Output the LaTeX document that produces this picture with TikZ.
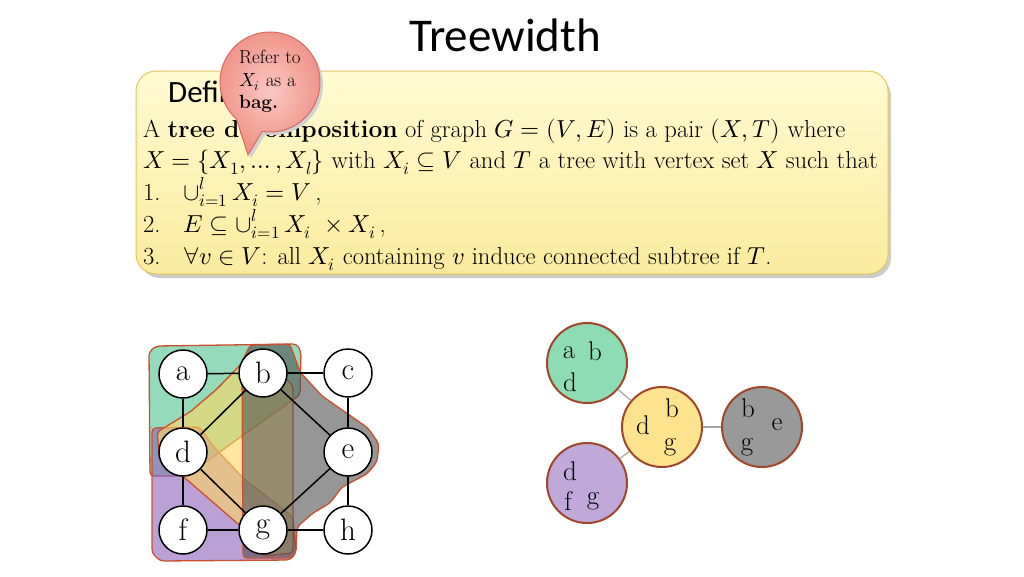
\documentclass[tikz,border=0pt]{standalone}
\usepackage{fontspec}
\usepackage{unicode-math}
\newfontfamily\calibri{Carlito}
\usetikzlibrary{calc}
\definecolor{bagborder}{HTML}{C9502C}
\definecolor{treeborder}{HTML}{A0472A}
\definecolor{bgreen}{HTML}{4FC48F}
\definecolor{bpurple}{HTML}{8F61BB}
\definecolor{byellow}{HTML}{FFD761}
\definecolor{bgray}{HTML}{505050}
\definecolor{tgreen}{HTML}{8EDCB4}
\definecolor{tyellow}{HTML}{FDE38E}
\definecolor{tgray}{HTML}{999999}
\definecolor{tpurple}{HTML}{C0A8D8}
\definecolor{boxtop}{HTML}{FFFBD2}
\definecolor{boxbot}{HTML}{FCEB9E}
\definecolor{boxline}{HTML}{E6C55A}
\definecolor{pinkin}{HTML}{FAC8C2}
\definecolor{pinkout}{HTML}{F09086}
\definecolor{pinkline}{HTML}{D86A60}
\begin{document}
\begin{tikzpicture}[x=1pt,y=-1pt,
  txt/.style={anchor=base west,inner sep=0pt,font=\fontsize{24.6}{28}\selectfont},
  ctxt/.style={anchor=base west,inner sep=0pt,font=\fontsize{19}{21}\selectfont},
  gnode/.style={circle,draw=black,line width=1.5pt,fill=white,minimum size=48pt,inner sep=0pt,font=\fontsize{31}{31}\selectfont},
  gedge/.style={draw=black,line width=1.5pt},
  bag/.style={draw=bagborder,line width=1.3pt,fill opacity=0.6,rounded corners=4pt},
  tnode/.style={circle,draw=treeborder,line width=2pt,minimum size=80pt,inner sep=0pt},
  tletter/.style={inner sep=0pt,font=\fontsize{27}{27}\selectfont},
  tedge/.style={draw=black!35,line width=1.2pt}]
\useasboundingbox (0,0) rectangle (1024,576);
\fill[white] (0,0) rectangle (1024,576);

% title
\node[anchor=base,inner sep=0pt,font=\calibri\fontsize{47}{47}\selectfont] (title) at (505,51) {Treewidth};

% definition box
\fill[black!20,rounded corners=20pt] (140,76) rectangle (891,278);
\draw[boxline,line width=1pt,rounded corners=20pt,top color=boxtop,bottom color=boxbot] (136,71) rectangle (888,274);
\node[anchor=base west,inner sep=0pt,font=\calibri\fontsize{31}{31}\selectfont] (defn) at (168,102) {Definition};

\node[txt] (l1) at (143,137) {A \textbf{tree decomposition} of graph $G=(V,E)$ is a pair $(X,T)$ where};
\node[txt] (l2) at (143,168) {$X=\{X_1,\dots,X_l\}$ with $X_i\subseteq V$ and $T$ a tree with vertex set $X$ such that};
\node[txt] (n1) at (143,200) {1.};
\node[txt] (l3) at (183,200) {$\mathop{\cup}\nolimits_{i=1}^{l} X_i = V$\,,};
\node[txt] (n2) at (143,232) {2.};
\node[txt] (l4) at (183,232) {$E\subseteq \mathop{\cup}\nolimits_{i=1}^{l} X_i\ \times X_i$\,,};
\node[txt] (n3) at (143,264) {3.};
\node[txt] (l5) at (183,264) {$\forall v\in V$: all $X_i$ containing $v$ induce connected subtree if $T$.};

% callout
\fill[black!18] ($(248,155)+(3,3)$) -- ($(273,85)+(132:50)$) arc[start angle=132,end angle=459,radius=50] -- cycle;
\draw[pinkline,line width=1pt,inner color=pinkin,outer color=pinkout] (248,155) -- ($(270,82)+(132:50)$) arc[start angle=132,end angle=459,radius=50] -- cycle;
\node[ctxt] (c1) at (239,63) {Refer to};
\node[ctxt] (c2) at (239,86) {$X_i$ as a};
\node[ctxt] (c3) at (239,108) {\textbf{bag.}};

% bags
\path[bag,fill=bgreen] (149,352) -- (156,346) -- (297,344) -- (301,352) -- (300,395) -- (243,435) -- (198,468) -- (185,476) -- (150,476) -- cycle;
\path[bag,fill=bpurple] (152,428) -- (200,427) -- (212,445) -- (243,478) -- (293,517) -- (296,553) -- (290,560) -- (160,561) -- (152,553) -- cycle;
\path[bag,fill=byellow] (250,350) -- (293,385) -- (293,553) -- (265,556) -- (245,530) -- (185,478) -- (160,462) -- (157,432) -- (190,412) -- (218,388) -- (243,362) -- cycle;
\path[bag,fill=bgray] (243,558) -- (242,362) -- (250,345) -- (290,344) -- (300,372) -- (322,396) -- (345,412) -- (368,428) -- (379,444) -- (377,462) -- (367,474) -- (342,487) -- (330,503) -- (313,513) -- (297,527) -- (296,553) -- (290,558) -- cycle;

% graph
\node[gnode] (a) at (183,374) {a};
\node[gnode] (b) at (263,373) {b};
\node[gnode] (c) at (348,373) {c};
\node[gnode] (d) at (183,452) {d};
\node[gnode] (e) at (348,452) {e};
\node[gnode] (f) at (183,530) {f};
\node[gnode] (g) at (263,530) {g};
\node[gnode] (h) at (348,530) {h};
\draw[gedge] (a) -- (b);
\draw[gedge] (b) -- (c);
\draw[gedge] (a) -- (d);
\draw[gedge] (c) -- (e);
\draw[gedge] (d) -- (f);
\draw[gedge] (e) -- (h);
\draw[gedge] (f) -- (g);
\draw[gedge] (g) -- (h);
\draw[gedge] (b) -- (d);
\draw[gedge] (b) -- (e);
\draw[gedge] (d) -- (g);
\draw[gedge] (e) -- (g);

% tree decomposition
\node[tnode,fill=tgreen] (T1) at (587,363) {};
\node[tnode,fill=tyellow] (T2) at (662,427) {};
\node[tnode,fill=tgray] (T3) at (762,427) {};
\node[tnode,fill=tpurple] (T4) at (587,483) {};
\draw[tedge] (T1) -- (T2);
\draw[tedge] (T4) -- (T2);
\draw[tedge] (T2) -- (T3);
\node[tletter] (t1a) at (569,353) {a};
\node[tletter] (t1b) at (595,351) {b};
\node[tletter] (t1d) at (570,382) {d};
\node[tletter] (t2d) at (643,425) {d};
\node[tletter] (t2b) at (672,408) {b};
\node[tletter] (t2g) at (670,447) {g};
\node[tletter] (t3b) at (748,408) {b};
\node[tletter] (t3e) at (777,425) {e};
\node[tletter] (t3g) at (747,447) {g};
\node[tletter] (t4d) at (570,471) {d};
\node[tletter] (t4f) at (568,501) {f};
\node[tletter] (t4g) at (593,501) {g};
\end{tikzpicture}
\end{document}
